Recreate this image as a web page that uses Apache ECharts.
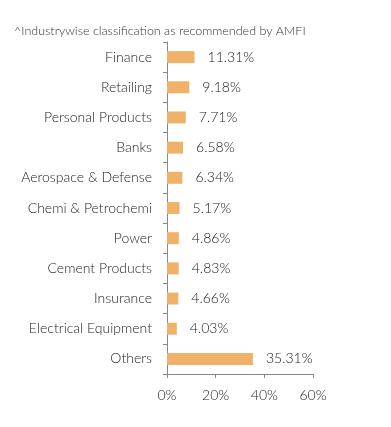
<!DOCTYPE html>
<html><head><meta charset="utf-8">
<script src="https://cdn.jsdelivr.net/npm/echarts@6/dist/echarts.min.js"></script>
<style>html,body{margin:0;padding:0;background:#fff}#c{width:391px;height:427px}</style>
</head><body><div id="c"></div>
<script>
const categories = ["Finance","Retailing","Personal Products","Banks","Aerospace & Defense","Chemi & Petrochemi","Power","Cement Products","Insurance","Electrical Equipment","Others"];
const values = [11.31,9.18,7.71,6.58,6.34,5.17,4.86,4.83,4.66,4.03,35.31];
const xTicks = [0,20,40,60];
const title = "^Industrywise classification as recommended by AMFI";

const chart = echarts.init(document.getElementById('c'));
chart.setOption({
  animation:false,
  textStyle:{fontFamily:'Lato'},
  title:{text:title,left:9,top:19,textStyle:{fontSize:12.5,fontWeight:300,color:'#333',fontFamily:'Lato'}},
  grid:{left:167,right:78,top:42,bottom:53,containLabel:false},
  xAxis:{type:'value',min:xTicks[0],max:xTicks[xTicks.length-1],interval:20,
    axisLine:{show:true,lineStyle:{color:'#888'}},
    axisTick:{show:true,length:4,lineStyle:{color:'#888'}},
    splitLine:{show:false},
    axisLabel:{formatter:v=>v+'%',fontSize:14,fontWeight:300,color:'#222',margin:14}},
  yAxis:{type:'category',data:categories,inverse:true,
    axisLine:{show:true,lineStyle:{color:'#888'}},
    axisTick:{show:true,length:4,lineStyle:{color:'#888'}},
    axisLabel:{fontSize:14,fontWeight:300,color:'#222',margin:15}},
  series:[{type:'bar',data:values,barWidth:12,itemStyle:{color:'#F0B26B'},
    label:{show:true,position:'right',distance:13,fontSize:14,fontWeight:300,color:'#222',formatter:p=>p.value.toFixed(2)+'%'}}]
});
</script></body></html>
